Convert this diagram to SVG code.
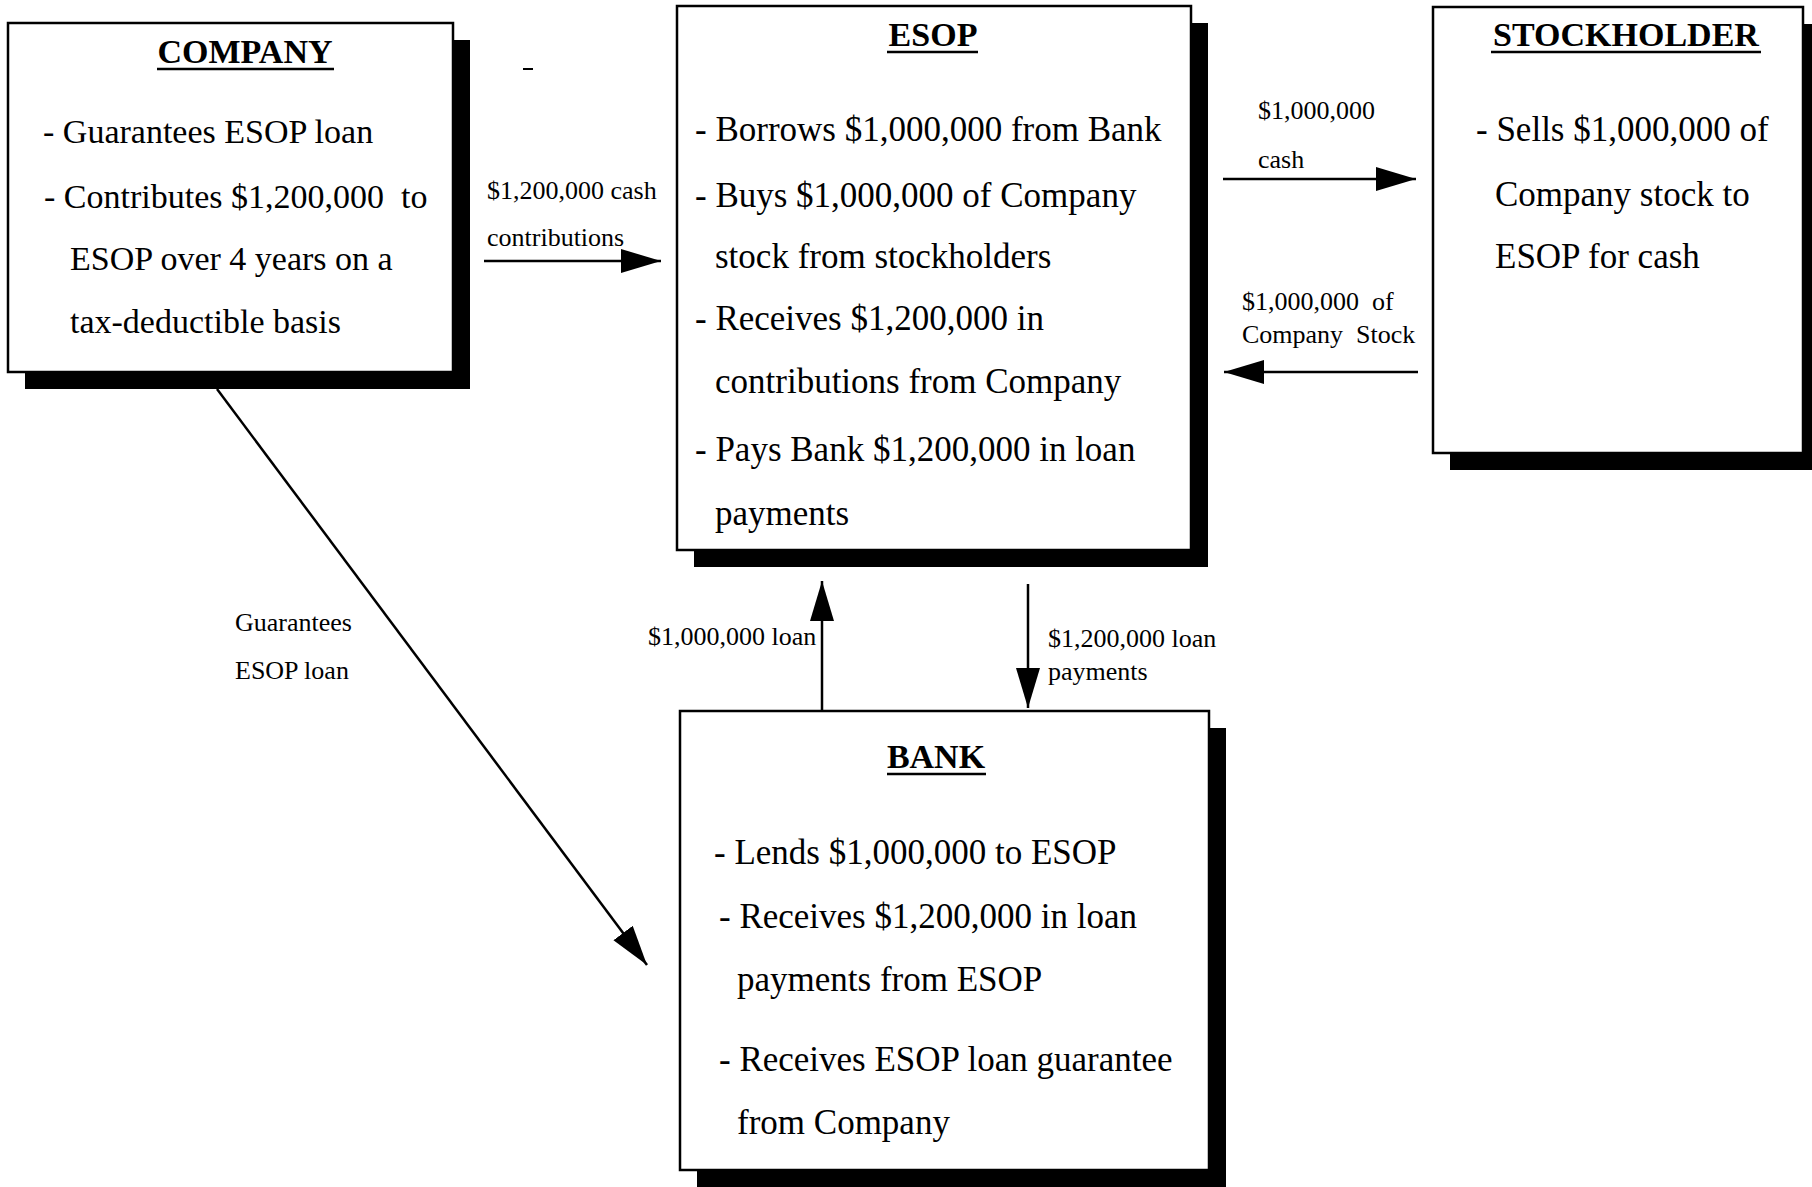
<svg xmlns="http://www.w3.org/2000/svg" width="1812" height="1187" viewBox="0 0 1812 1187">
<defs>
<style>
.box{fill:#fff;stroke:#000;stroke-width:2.5}
.shadow{fill:#000}
.title{font-family:"Liberation Serif",serif;font-size:34px;font-weight:bold;text-anchor:middle;fill:#000}
.body{font-family:"Liberation Serif",serif;font-size:35px;fill:#000}
.cbody{font-family:"Liberation Serif",serif;font-size:34px;fill:#000}
.lbl{font-family:"Liberation Serif",serif;font-size:26px;fill:#000}
.ul{stroke:#000;stroke-width:2.5}
.conn{stroke:#000;stroke-width:2.5;fill:none;marker-end:url(#ah)}
</style>
<marker id="ah" markerUnits="userSpaceOnUse" markerWidth="44" markerHeight="26" refX="40" refY="12" orient="auto">
<path d="M0,0 L40,12 L0,24 Z" fill="#000"/>
</marker>
</defs>
<rect width="1812" height="1187" fill="#fff"/>

<g id="company">
<rect class="shadow" x="25" y="40" width="445" height="349"/>
<rect class="box" x="8" y="23" width="445" height="349"/>
<text class="title" x="245" y="63">COMPANY</text>
<line class="ul" x1="157" y1="69" x2="334" y2="69"/>
<text class="cbody" x="43" y="143">- Guarantees ESOP loan</text>
<text class="cbody" x="44" y="208" xml:space="preserve">- Contributes $1,200,000  to</text>
<text class="cbody" x="70" y="270">ESOP over 4 years on a</text>
<text class="cbody" x="70" y="333">tax-deductible basis</text>
</g>

<g id="esop">
<rect class="shadow" x="694" y="23" width="514" height="544"/>
<rect class="box" x="677" y="6" width="514" height="544"/>
<text class="title" x="933" y="46">ESOP</text>
<line class="ul" x1="887" y1="52" x2="978" y2="52"/>
<text class="body" x="695" y="141">- Borrows $1,000,000 from Bank</text>
<text class="body" x="695" y="207">- Buys $1,000,000 of Company</text>
<text class="body" x="715" y="268">stock from stockholders</text>
<text class="body" x="695" y="330">- Receives $1,200,000 in</text>
<text class="body" x="715" y="393">contributions from Company</text>
<text class="body" x="695" y="461">- Pays Bank $1,200,000 in loan</text>
<text class="body" x="715" y="525">payments</text>
</g>

<g id="stockholder">
<rect class="shadow" x="1450" y="24" width="370" height="446"/>
<rect class="box" x="1433" y="7" width="370" height="446"/>
<text class="title" x="1626" y="46">STOCKHOLDER</text>
<line class="ul" x1="1491" y1="52" x2="1761" y2="52"/>
<text class="body" x="1476" y="141">- Sells $1,000,000 of</text>
<text class="body" x="1495" y="206">Company stock to</text>
<text class="body" x="1495" y="268">ESOP for cash</text>
</g>

<g id="bank">
<rect class="shadow" x="697" y="728" width="529" height="459"/>
<rect class="box" x="680" y="711" width="529" height="459"/>
<text class="title" x="936" y="768">BANK</text>
<line class="ul" x1="887" y1="774" x2="986" y2="774"/>
<text class="body" x="714" y="864">- Lends $1,000,000 to ESOP</text>
<text class="body" x="719" y="928">- Receives $1,200,000 in loan</text>
<text class="body" x="737" y="991">payments from ESOP</text>
<text class="body" x="719" y="1071">- Receives ESOP loan guarantee</text>
<text class="body" x="737" y="1134">from Company</text>
</g>

<g id="connectors">
<line class="conn" x1="484" y1="261" x2="661" y2="261"/>
<line class="conn" x1="1223" y1="179" x2="1416" y2="179"/>
<line class="conn" x1="1418" y1="372" x2="1224" y2="372"/>
<line class="conn" x1="822" y1="710" x2="822" y2="581"/>
<line class="conn" x1="1028" y1="584" x2="1028" y2="708"/>
<line class="conn" x1="217" y1="389" x2="647" y2="965"/>
<text class="lbl" x="487" y="199">$1,200,000 cash</text>
<text class="lbl" x="487" y="246">contributions</text>
<text class="lbl" x="1258" y="119">$1,000,000</text>
<text class="lbl" x="1258" y="168">cash</text>
<text class="lbl" x="1242" y="310" xml:space="preserve">$1,000,000  of</text>
<text class="lbl" x="1242" y="343" xml:space="preserve">Company  Stock</text>
<text class="lbl" x="648" y="645">$1,000,000 loan</text>
<text class="lbl" x="1048" y="647">$1,200,000 loan</text>
<text class="lbl" x="1048" y="680">payments</text>
<text class="lbl" x="235" y="631">Guarantees</text>
<text class="lbl" x="235" y="679">ESOP loan</text>
</g>
<line x1="523" y1="69" x2="533" y2="69" stroke="#000" stroke-width="2"/>
</svg>
